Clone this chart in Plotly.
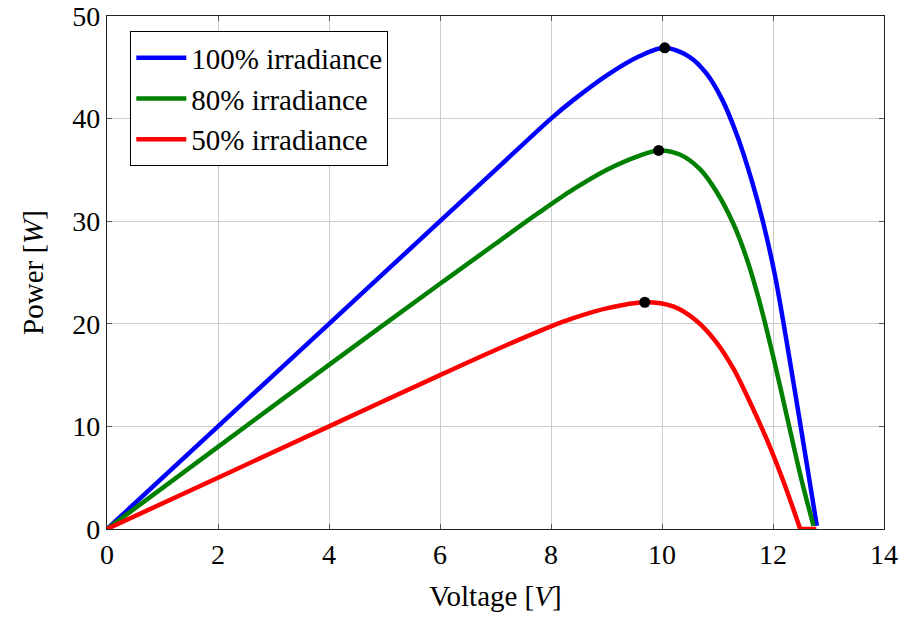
import plotly.graph_objects as go

# Voltage / power samples
v_100 = [0, 2, 4, 6, 7, 8, 8.4, 9.0, 9.6, 10.05, 10.5, 10.8, 11.08, 11.35, 11.62, 11.83, 12.04, 12.31, 12.61, 12.79]
p_100 = [0, 10, 20, 30, 35, 40, 41.8, 44.2, 46.1, 46.9, 46.0, 44.4, 41.9, 38.4, 33.9, 29.7, 24.6, 16.2, 6.3, 0.3]

v_80 = [0, 2, 4, 6, 7, 7.8, 8.4, 9.0, 9.6, 9.94, 10.32, 10.68, 10.98, 11.29, 11.53, 11.75, 12.0, 12.25, 12.5, 12.73]
p_80 = [0, 8, 16, 23.9, 27.8, 30.9, 33.1, 35.0, 36.4, 36.9, 36.5, 35.1, 32.9, 29.7, 26.3, 22.3, 16.9, 11.0, 5.1, 0.3]

v_50 = [0, 2, 4, 6, 7, 8, 8.4, 9.0, 9.69, 10.2, 10.62, 10.98, 11.29, 11.59, 11.89, 12.19, 12.49]
p_50 = [0, 5, 10, 15.0, 17.45, 19.75, 20.55, 21.5, 22.1, 21.7, 20.3, 18.2, 15.6, 12.3, 8.7, 4.6, 0]

# 50% curve runs along zero beyond open-circuit point
v_50_tail = [12.49, 12.78]
p_50_tail = [0, 0]

mpp_v = [10.05, 9.94, 9.69]
mpp_p = [46.9, 36.9, 22.1]

labels = ["100% irradiance", "80% irradiance", "50% irradiance"]
colors = ["#0000ff", "#008000", "#ff0000"]

FONT = "Liberation Serif, serif"

fig = go.Figure()
for v, p, name, c in zip([v_100, v_80, v_50], [p_100, p_80, p_50], labels, colors):
    fig.add_trace(go.Scatter(x=v, y=p, mode="lines", name=name,
                             line=dict(color=c, width=4.5, shape="spline", smoothing=0.9,
                                       simplify=False)))
fig.add_trace(go.Scatter(x=v_50_tail, y=p_50_tail, mode="lines", showlegend=False,
                         line=dict(color=colors[2], width=4.5)))
fig.add_trace(go.Scatter(x=mpp_v, y=mpp_p, mode="markers", showlegend=False,
                         marker=dict(color="black", size=11)))

axis_common = dict(showgrid=True, gridcolor="#cccccc", gridwidth=1,
                   showline=True, linecolor="#222222", linewidth=1.2, mirror="ticks",
                   ticks="inside", ticklen=5, tickcolor="#555555", zeroline=False,
                   automargin=False,
                   tickfont=dict(family=FONT, size=28, color="black"))

fig.update_xaxes(range=[0, 14], dtick=2, tick0=0,
                 title=dict(text="Voltage [<i>V</i>]", font=dict(family=FONT, size=29, color="black"), standoff=16),
                 **axis_common)
fig.update_yaxes(range=[0, 50], dtick=10, tick0=0,
                 title=dict(text="Power [<i>W</i>]", font=dict(family=FONT, size=29, color="black"), standoff=20),
                 **axis_common)

fig.update_layout(
    width=904, height=617,
    margin=dict(l=107, r=20, t=16, b=88),
    paper_bgcolor="white", plot_bgcolor="white",
    font=dict(family=FONT, color="black"),
    legend=dict(x=0.03, y=0.97, xanchor="left", yanchor="top",
                bgcolor="white", bordercolor="black", borderwidth=1,
                font=dict(family=FONT, size=29, color="black"),
                tracegroupgap=0, itemwidth=50),
)

fig.write_html("out.html")
